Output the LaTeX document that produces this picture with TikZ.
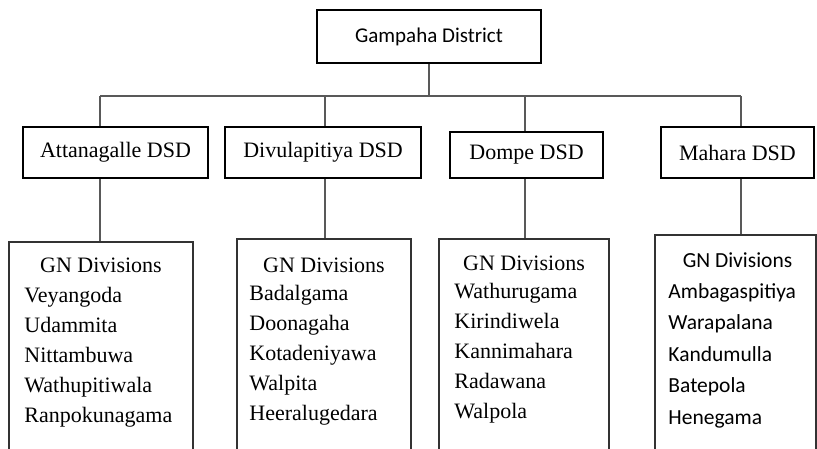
\documentclass[tikz,border=0pt]{standalone}
\usepackage{fontspec}
\setmainfont{Liberation Serif}
\newfontfamily\calfont{Carlito}
\usepackage{tikz}
\usetikzlibrary{positioning,calc}

\tikzset{
	topbox/.style = {draw=black, line width=2.2pt, minimum width=224pt, minimum height=53pt, inner sep=0pt, font=\calfont\fontsize{21}{25}\selectfont},
	dsdbox/.style = {draw=black, line width=2.1pt, minimum height=51pt, inner sep=0pt, font=\fontsize{22}{26}\selectfont},
	gnbox/.style = {draw=black!80, line width=1.5pt, minimum height=240pt, anchor=north, inner sep=0pt},
	gntext/.style = {inner sep=0pt, font=\fontsize{22}{26}\selectfont},
	gnsans/.style = {inner sep=0pt, font=\calfont\fontsize{21.5}{26}\selectfont},
	link/.style = {draw=black!65, line width=1.2pt},
}

\begin{document}
\begin{tikzpicture}[x=1pt,y=-1pt]

		\useasboundingbox (0,0) rectangle (817,448);
		\clip (0,0) rectangle (817,448);

		% district
		\node[topbox] (gd) at (429,36.5) {Gampaha District};

		% divisional secretariats
		\node[dsdbox, minimum width=185pt] (att) at (115.5,152.5) {Attanagalle DSD};
		\node[dsdbox, minimum width=196pt] (div) at (323,152.5) {Divulapitiya DSD};
		\node[dsdbox, minimum width=153pt, minimum height=46pt] (dom) at (526.5,155) {\raisebox{-3pt}{Dompe DSD}};
		\node[dsdbox, minimum width=153pt] (mah) at (737.5,152.5) {Mahara DSD};

		% GN division boxes (run off the bottom)
		\node[gnbox, minimum width=184pt] (gn1) at (101,241) {};
		\node[gnbox, minimum width=174pt] (gn2) at (324,238) {};
		\node[gnbox, minimum width=170pt] (gn3) at (524,238) {};
		\node[gnbox, minimum width=161pt] (gn4) at (735.5,234) {};

		% connectors
		\coordinate (bus) at (0,96);
		\coordinate (k1) at (100,96);
		\coordinate (k2) at (325,96);
		\coordinate (k3) at (525,96);
		\coordinate (k4) at (741,96);
		\draw[link] (gd.south) -- (gd.south |- bus);
		\draw[link] (k1) -- (k4);
		\foreach \k/\d/\g in {k1/att/gn1, k2/div/gn2, k3/dom/gn3, k4/mah/gn4} {
			\draw[link] (\k) -- (\k |- \d.north);
			\draw[link] (\k |- \d.south) -- (\k |- \g.north);
		}

		% lists
		\node[gntext, anchor=base] (gh1) at ($(gn1.north)+(0,31)$) {GN Divisions};
		\foreach \nm [count=\i] in {Veyangoda,Udammita,Nittambuwa,Wathupitiwala,Ranpokunagama}
			\node[gntext, anchor=base west] (g1-\i) at ($(gn1.north west)+(16,{31+30*\i})$) {\nm};

		\node[gntext, anchor=base] (gh2) at ($(gn2.north)+(0,34)$) {GN Divisions};
		\foreach \nm [count=\i] in {Badalgama,Doonagaha,Kotadeniyawa,Walpita,Heeralugedara}
			\node[gntext, anchor=base west] (g2-\i) at ($(gn2.north west)+(13,{32+30*\i})$) {\nm};

		\node[gntext, anchor=base] (gh3) at ($(gn3.north)+(0,32)$) {GN Divisions};
		\foreach \nm [count=\i] in {Wathurugama,Kirindiwela,Kannimahara,Radawana,Walpola}
			\node[gntext, anchor=base west] (g3-\i) at ($(gn3.north west)+(16,{30+30*\i})$) {\nm};

		\node[gnsans, anchor=base] (gh4) at ($(gn4.north)+(2,33)$) {GN Divisions};
		\foreach \nm [count=\i] in {Ambagaspitiya,Warapalana,Kandumulla,Batepola,Henegama}
			\node[gnsans, anchor=base west] (g4-\i) at ($(gn4.north west)+(14,{32.5+31.5*\i})$) {\nm};

\end{tikzpicture}
\end{document}
